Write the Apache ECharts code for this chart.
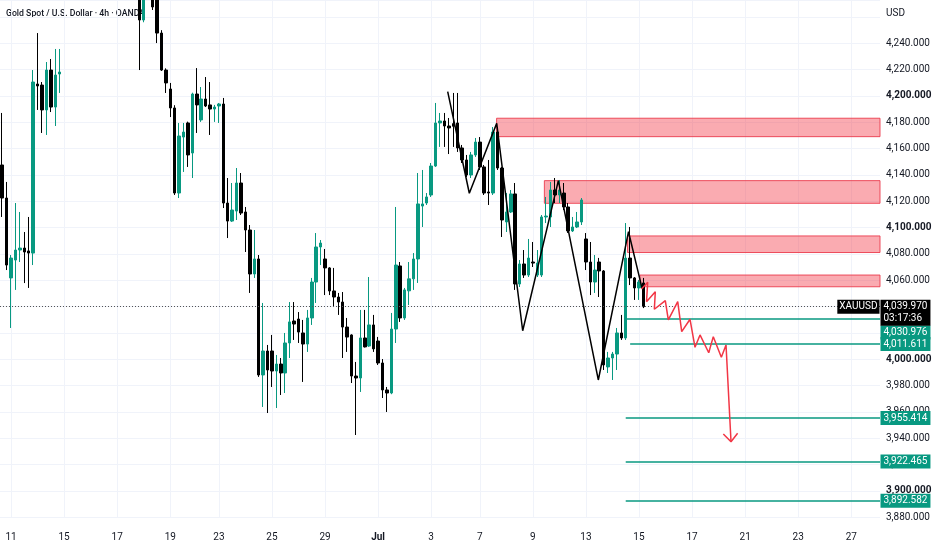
<!DOCTYPE html>
<html><head><meta charset="utf-8">
<script src="https://cdn.jsdelivr.net/npm/echarts@6/dist/echarts.min.js"></script>
<style>html,body{margin:0;padding:0;background:#fff}#c{width:932px;height:550px}</style>
</head><body><div id="c"></div>
<script>
// ---- data ----
const chartTitle = 'Gold Spot / U.S. Dollar · 4h · OANDA';
const currency = 'USD';
const slotCount = 199;
const tickLabels = ['11','15','17','19','23','25','29','Jul','3','7','9','13','15','17','21','23','27'];
const tickIndex  = [2,14,26,38,49,61,73,85,97,108,120,132,144,156,168,180,192];

const opens = [4147.6,4122.5,4061.8,4075.4,4083.0,4084.5,4082.3,4080.7,4209.1,4208.3,4189.4,4219.7,4191.6,4216.7,
 4281,4290,4301,4312,4325,4318,4334,4345,4338,4352,4361,4348,4335,4322,4330,4312,4298,
 4290,4257.7,4284,4290,4276,4247.8,4219.7,4205.3,4190.9,4126.3,4168.8,4179.5,4156.7,4201.5,4181.8,4197.7,4193.2,4190.1,4192.4,
 4193.9,4118.7,4105.0,4112.6,4133.9,4111.9,4098.2,4064.8,4076.2,3988.1,4006.3,4006.3,3991.1,3996.4,3989.6,4012.4,4029.1,4030.6,4020.0,
 4011.6,4031.4,4058.7,4085.3,4076.2,4069.4,4051.9,4047.3,4043.5,4024.5,4018.5,3987.3,3985.8,4016.2,4010.1,4026.1,4013.9,3997.2,3976.7,
 3974.4,4023.0,4070.9,4031.4,4052.0,4061.1,4076.2,4116.4,4118.7,4124.8,4146.8,4179.5,4181.0,4177.2,4179.0,4179.5,4160.5,4151.4,4140.0,
 4155.2,4165.0,4146.1,4127.1,4126.3,4172.6,4145.3,4104.3,4111.9,4125.6,4057.2,4072.4,4064.0,4073.9,4064.0,4064.0,4108.1,4108.1,4128.6,
 4124.8,4126.3,4115.7,4097.5,4100.5,4104.3,4091.4,4073.9,4058.7,4073.9,4067.1,3994.2,4001.0,4004.0,4020.0,4016.2,4076.9,4061.8,4054.2,4058.0];
const closes = [4122.5,4071.6,4076.9,4083.0,4084.5,4081.5,4080.7,4210.6,4207.6,4189.4,4219.7,4191.6,4215.9,4218.2,
 4290,4301,4312,4325,4318,4334,4345,4338,4352,4361,4348,4335,4322,4330,4312,4298,4290,
 4257.7,4284,4290,4267.6,4247.8,4219.7,4209.9,4190.9,4126.3,4169.6,4172.6,4155.2,4201.5,4193.2,4197.7,4192.4,4190.1,4191.6,4193.9,
 4118.7,4105.0,4113.4,4133.9,4111.1,4098.2,4064.8,4076.2,3988.1,4006.3,3991.9,3991.1,3996.4,3989.6,4012.4,4028.4,4026.8,4020.7,4011.6,
 4031.4,4058.7,4085.3,4088.3,4069.4,4051.9,4047.3,4043.5,4024.5,4016.9,3987.3,3985.8,4016.2,4009.4,4026.1,4007.9,3997.2,3976.7,3974.4,
 4023.0,4071.6,4031.4,4052.7,4061.1,4076.2,4118.0,4118.0,4123.3,4146.8,4179.5,4181.0,4177.2,4175.7,4177.0,4160.5,4151.4,4140.0,4155.2,
 4165.0,4146.1,4126.3,4126.3,4172.6,4145.3,4105.8,4111.9,4125.6,4057.2,4072.4,4064.0,4076.9,4073.1,4073.1,4108.1,4108.8,4128.6,4124.8,
 4128.6,4115.7,4097.5,4100.5,4104.3,4121.0,4073.9,4058.7,4067.8,4067.1,3995.7,4001.0,4004.0,4020.0,4016.2,4076.9,4061.8,4054.2,4058.7,4039.97];
const lows = [4108.1,4067.8,4023.8,4052.7,4073.9,4057.9,4054.2,4071.6,4189.4,4171.9,4170.4,4187.8,4177.2,4202.3,
 4276,4285,4296,4305,4310,4314,4328,4330,4333,4345,4340,4326,4312,4310,4300,4288,4280,
 4219.7,4256,4276,4265.3,4240.2,4219.0,4202.3,4184.0,4124.8,4122.5,4142.3,4146.1,4137.7,4171.9,4180.3,4191.6,4170.4,4180.3,4179.5,
 4114.9,4092.1,4104.3,4105.8,4109.6,4081.5,4050.4,4061.8,3986.6,3963.8,3959.2,3979.0,3963.0,3972.9,3974.4,4001.0,4014.7,4012.4,3982.8,
 4005.6,4026.1,4042.8,4071.6,4048.8,4048.8,4039.7,4033.7,4001.0,4005.6,3982.0,3942.5,3975.2,4009.0,4009.4,4005.6,3995.7,3970.6,3960.0,
 3973.5,4012.4,4028.4,4029.9,4041.2,4052.7,4058.0,4100.5,4117.2,4123.3,4146.1,4161.3,4161.3,4155.9,4161.3,4157.5,4149.1,4138.5,4137.7,
 4153.7,4143.8,4124.8,4117.2,4124.8,4143.8,4092.9,4096.7,4111.1,4052.7,4054.9,4061.8,4062.5,4070.1,4062.5,4062.5,4103.5,4100.5,4118.7,
 4118.7,4113.4,4096.0,4096.7,4099.7,4102.0,4067.8,4048.8,4050.4,4047.3,3991.9,3989.6,3984.3,3991.9,4014.7,4014.7,4056.4,4045.1,4045.1,4038.9];
const highs = [4187.1,4134.7,4079.2,4118.7,4111.9,4096.7,4108.1,4219.7,4247.8,4210.6,4225.8,4228.1,4235.7,4235.7,
 4296,4306,4318,4330,4333,4340,4352,4356,4360,4372,4366,4352,4340,4338,4334,4318,4305,
 4296,4290,4298,4294,4282,4250.0,4221.0,4209.9,4193.0,4179.5,4179.5,4180.5,4202.5,4221.2,4206.8,4214.4,4210.6,4193.2,4194.7,
 4198.5,4137.7,4133.9,4145.3,4141.5,4115.7,4102.0,4098.2,4079.2,4042.8,4010.9,4018.5,4003.3,4001.0,4020.0,4043.5,4043.5,4035.9,4029.9,
 4037.5,4061.8,4095.9,4090.6,4083.8,4070.0,4069.4,4050.4,4051.1,4031.4,4019.0,3998.0,4037.5,4037.5,4062.5,4033.7,4017.0,4000.2,3979.0,
 4035.2,4115.7,4073.9,4054.2,4073.9,4080.7,4141.5,4143.8,4126.3,4149.1,4194.7,4187.1,4187.1,4183.3,4202.3,4202.3,4162.8,4155.2,4157.5,
 4168.1,4168.8,4147.6,4151.4,4176.4,4176.4,4146.1,4126.3,4128.6,4133.9,4075.4,4083.0,4091.4,4089.1,4083.0,4109.6,4123.3,4134.7,4137.7,
 4136.2,4133.9,4118.7,4108.1,4111.9,4122.5,4095.9,4089.1,4079.2,4077.0,4067.8,4005.6,4005.6,4023.8,4033.7,4103.5,4100.5,4062.5,4060.3,4061.8];

const lastPrice = 4039.97;
const lastTimer = '03:17:36';
const symbolName = 'XAUUSD';
const levelValues = [4030.976, 4011.611, 3955.414, 3922.465, 3892.582];
const levelStart  = [141, 142, 141, 141, 141];
const zoneStart  = [111.8, 122.6, 141.4, 144.2];
const zoneTop    = [4183.1, 4135.7, 4093.7, 4064.0];
const zoneBottom = [4169.1, 4118.5, 4081.1, 4055.1];
const blackPath = [[100.74,4203.3],[105.63,4126.1],[111.82,4179.2],[117.7,4021.7],[125.76,4135.7],[134.8,3984.3],[141.63,4096.9],[144.68,4054.1]];
const redPath = [[144.57,4053.4],[145.97,4058.5],[145.7,4043.8],[147.69,4051.3],[147.47,4038.0],[149.95,4044.5],[150.63,4029.9],[152.76,4043.8],[153.66,4021.0],[155.54,4030.4],[156.67,4009.1],[157.8,4018.5],[159.77,4005.0],[160.8,4017.2],[162.62,4001.5],[163.68,4010.9],[164.81,3937.4]];
const redArrow = [[163.07,3943.3],[164.81,3937.4],[166.3,3943.8]];

// ---- chart ----
const TEAL = '#089981', RED = '#f23645', TXT = '#131722', GRID = '#f0f3fa';
const categories = Array.from({length: slotCount}, (_, i) => 'c' + i);
const xMax = slotCount - 0.5;
const ohlc = opens.map((o, i) => [o, closes[i], lows[i], highs[i]]);
const tickMap = {}; tickIndex.forEach((t, k) => tickMap[t] = tickLabels[k]);
const isTick = idx => tickMap[idx] !== undefined;
const fmt = v => v.toLocaleString('en-US', {minimumFractionDigits: 3, maximumFractionDigits: 3});
const boldPrices = [4200, 4100, 4000, 3900];
const hiddenPrices = [4020, 4040];

const chart = echarts.init(document.getElementById('c'), null, {renderer: 'canvas'});
chart.setOption({
  animation: false,
  backgroundColor: '#ffffff',
  textStyle: {fontFamily: 'Roboto'},
  grid: {left: 0, right: 52, top: 0, bottom: 32.7, containLabel: false, outerBoundsMode: 'none'},
  graphic: [
    {type: 'text', left: 6, top: 9, z: 0, style: {text: chartTitle, font: '500 8.7px Roboto', fill: TXT}},
    {type: 'text', left: 886, top: 8, z: 0, style: {text: currency, font: '10px Roboto', fill: TXT}}
  ],
  xAxis: [
    {type: 'category', data: categories, boundaryGap: true,
     axisLine: {show: false}, axisTick: {show: false},
     axisLabel: {interval: (idx) => isTick(idx), margin: 15, fontSize: 10, color: TXT,
       formatter: (val, idx) => { const t = tickMap[idx]; if (t === undefined) return ''; return t === 'Jul' ? '{b|Jul}' : t; },
       rich: {b: {fontWeight: 'bold', fontSize: 10, color: TXT}}},
     splitLine: {show: true, interval: (idx) => isTick(idx), alignWithLabel: true, lineStyle: {color: GRID, width: 1}}},
    {type: 'value', min: -0.5, max: xMax, show: false}
  ],
  yAxis: [{
    type: 'value', position: 'right', min: 3880, max: 4272.9, interval: 20,
    axisLine: {show: false}, axisTick: {show: false},
    axisLabel: {margin: 6, fontSize: 10, color: TXT,
      formatter: (v) => {
        if (v > 4245 || Math.abs(v % 20) > 0.01 || hiddenPrices.indexOf(v) >= 0) return '';
        return boldPrices.indexOf(v) >= 0 ? '{b|' + fmt(v) + '}' : fmt(v);
      },
      rich: {b: {fontWeight: 'bold', fontSize: 10, color: TXT}}},
    splitLine: {lineStyle: {color: GRID, width: 1}}
  }],
  series: [
    {type: 'candlestick', xAxisIndex: 0, yAxisIndex: 0, data: ohlc, barWidth: 3, z: 2, silent: true,
     itemStyle: {color: TEAL, color0: '#000000', borderColor: TEAL, borderColor0: '#000000', borderWidth: 1}},
    {type: 'line', xAxisIndex: 1, yAxisIndex: 0, data: [], z: 3, silent: true,
     markArea: {silent: true,
       itemStyle: {color: 'rgba(242,54,69,0.42)', borderColor: 'rgba(235,60,78,0.9)', borderWidth: 1},
       data: zoneStart.map((s, i) => [{coord: [s, zoneTop[i]]}, {coord: [xMax, zoneBottom[i]]}])},
     markLine: {silent: true, symbol: ['none', 'none'], label: {show: false},
       lineStyle: {color: TEAL, width: 1.5, type: 'solid'},
       data: levelValues.map((v, i) => [{coord: [levelStart[i], v]}, {coord: [xMax, v]}]).concat([
         [{coord: [-0.5, lastPrice], lineStyle: {color: '#555', width: 1, type: [1, 2]}}, {coord: [xMax, lastPrice]}]
       ])}
    },
    {type: 'line', xAxisIndex: 1, yAxisIndex: 0, data: blackPath, symbol: 'none', z: 5, silent: true,
     lineStyle: {color: '#000000', width: 1.5}},
    {type: 'line', xAxisIndex: 1, yAxisIndex: 0, data: redPath, symbol: 'none', z: 5, silent: true,
     lineStyle: {color: RED, width: 1.5}},
    {type: 'line', xAxisIndex: 1, yAxisIndex: 0, data: redArrow, symbol: 'none', z: 5, silent: true,
     lineStyle: {color: RED, width: 1.5}},
    {type: 'line', xAxisIndex: 1, yAxisIndex: 0, data: [], z: 10, silent: true,
     markPoint: {silent: true, symbol: 'rect', symbolSize: [1, 1], itemStyle: {color: 'rgba(0,0,0,0)'},
       label: {show: true, position: 'right', distance: 0, fontSize: 10, lineHeight: 12, color: '#ffffff',
         backgroundColor: TEAL, padding: [1, 3, 1, 3], formatter: (p) => fmt(p.value)},
       data: levelValues.map((v, i) => ({coord: [xMax, v], value: v, label: {offset: [0, i === 0 ? 14 : 0]}})).concat([
         {coord: [xMax, lastPrice], value: lastPrice,
          label: {backgroundColor: '#000000', offset: [0, 6], formatter: fmt(lastPrice) + '\n' + lastTimer}},
         {coord: [xMax, lastPrice], value: lastPrice,
          label: {position: 'left', backgroundColor: '#000000', padding: [1, 2, 1, 2], formatter: symbolName}}
       ])}
    }
  ]
});
</script></body></html>
